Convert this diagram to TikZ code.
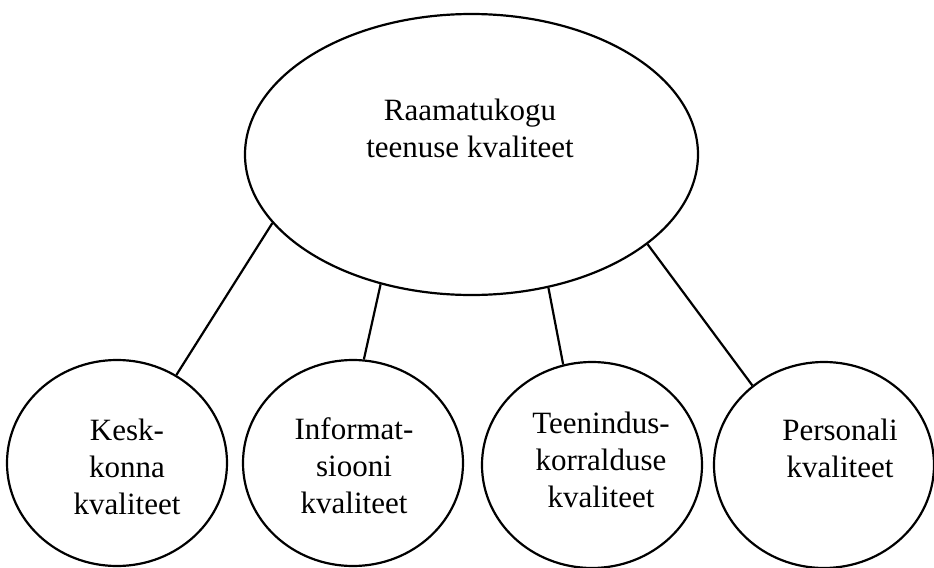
\documentclass[tikz,border=0pt]{standalone}
\usepackage{fontspec}
\setmainfont{Liberation Serif}
\usetikzlibrary{shapes.geometric}

\begin{document}
\begin{tikzpicture}[x=0.5pt,y=-0.5pt,
  oval/.style={draw,ellipse,line width=1.1pt,inner sep=0pt},
  hoofd/.style={oval,minimum width=226.5pt,minimum height=140.5pt},
  deel/.style={oval,minimum width=110pt,minimum height=103pt},
  tekst/.style={align=center,inner sep=0pt,font=\fontsize{15.5}{18.5}\selectfont},
  lijn/.style={line width=1.1pt}]
\useasboundingbox (0,0) rectangle (934,568);
\node[hoofd] (teenus) at (471.5,154.5) {};
\node[tekst] (teenusT) at (470,128) {Raamatukogu\\teenuse kvaliteet};

\node[deel] (keskkond) at (117,463) {};
\node[deel] (info) at (353,463) {};
\node[deel] (korraldus) at (592,465) {};
\node[deel] (personal) at (824,465) {};

\node[tekst] (keskkondT) at (127,467) {Kesk-\\konna\\kvaliteet};
\node[tekst] (infoT) at (354,466) {Informat-\\siooni\\kvaliteet};
\node[tekst] (korraldusT) at (601,460) {Teenindus-\\korralduse\\kvaliteet};
\node[tekst] (personalT) at (840,448) {Personali\\kvaliteet};

\draw[lijn] (teenus.199.7) -- (keskkond.56.9);
\draw[lijn] (teenus.235.6) -- (info.84.6);
\draw[lijn] (teenus.300.6) -- (korraldus.106);
\draw[lijn] (teenus.333.6) -- (personal.132.2);
\end{tikzpicture}
\end{document}
